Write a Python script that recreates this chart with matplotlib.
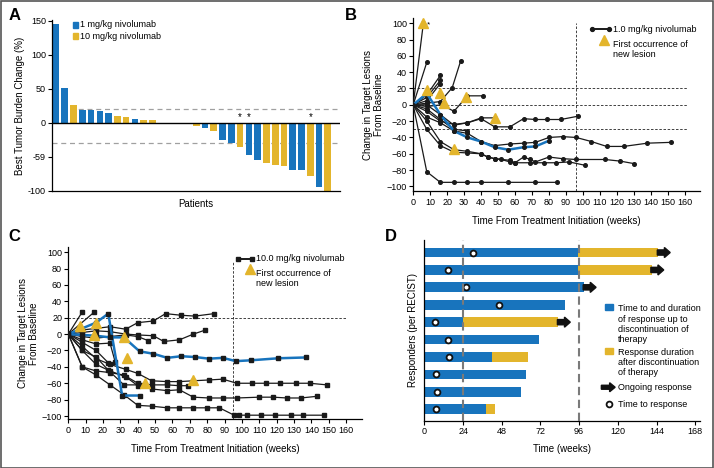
import matplotlib
matplotlib.use("Agg")
import matplotlib.pyplot as plt
from matplotlib.patches import Rectangle, FancyArrow
from matplotlib.lines import Line2D

plt.rcParams['font.family'] = ['Liberation Sans', 'DejaVu Sans']

BLUE = '#1874bd'
YELLOW = '#e3b52c'

# ---- panel A: best tumor burden change per patient (waterfall)
a_change = [145, 51, 26, 19, 19, 18, 15, 10, 9, 6, 4, 4, 0, -1.5, -1, -2, -5, -7, -12,
            -25, -30, -36, -48, -55, -59, -62, -63, -69, -69, -78, -94, -100]
a_dose = ['1', '1', '10', '1', '1', '1', '1', '10', '10', '1', '10', '10', '10', '1', '10', '10',
          '10', '1', '10', '1', '1', '10', '1', '1', '10', '10', '10', '1', '1', '10', '1', '10']
a_star = [21, 22, 29]
a_yticks = [150, 100, 50, 0, -50, -100]
a_yticklabels = ['150', '100', '50', '0', '-59', '-100']
a_ref_levels = [20, -30]

# ---- panel B: 1.0 mg/kg, change in target lesions over time
b_weeks = [
    [0, 6],
    [0, 8],
    [0, 8, 16],
    [0, 8, 16],
    [0, 8, 16],
    [0, 8, 16, 23, 28],
    [0, 8, 17, 24, 32, 41],
    [0, 8, 16, 24, 32, 40, 48, 57, 65, 72, 79, 87, 97],
    [0, 8, 16, 24, 32, 40, 48],
    [0, 8, 16, 24, 32, 40, 48, 57, 65, 72, 80, 88, 96, 105, 114, 124, 138, 152],
    [0, 8, 16, 24, 32, 40, 44, 48, 52, 57, 60, 65, 69, 72, 80, 88, 96, 113, 122, 130],
    [0, 8, 16, 24, 32, 40, 44, 48, 57, 60, 69, 77, 84, 92, 101],
    [0, 8, 16, 24, 32, 40, 56, 72, 85],
    [0, 8, 16, 24, 32],
]
b_change = [
    [0, 100],
    [0, 52],
    [0, 12, 36],
    [0, 9, 30],
    [0, 5, 26],
    [0, 2, 4, 21, 54],
    [0, -2, 0, -8, 11, 11],
    [0, -8, -20, -24, -22, -17, -27, -27, -17, -18, -18, -18, -14],
    [0, 0, -12, -25, -22, -16, -16],
    [0, -15, -22, -32, -35, -45, -50, -48, -47, -46, -40, -39, -40, -45, -51, -51, -47, -46],
    [0, -20, -45, -55, -57, -60, -64, -66, -67, -70, -71, -64, -67, -70, -64, -66, -67, -67, -69, -72],
    [0, -30, -50, -58, -59, -60, -64, -66, -68, -71, -71, -71, -71, -70, -74],
    [0, -82, -95, -95, -95, -95, -95, -95, -95],
    [0, -5, -18, -30, -32],
]
b_blue_weeks = [0, 8, 16, 24, 32, 40, 48, 56, 65, 72, 80]
b_blue_change = [0, 14, -12, -32, -40, -45, -52, -55, -52, -51, -44]
b_tri_weeks = [6, 8, 16, 18, 24, 31, 48]
b_tri_change = [100, 18, 14, 2, -54, 9, -16]
b_ref_levels = [20, 0, -30]

# ---- panel C: 10.0 mg/kg, change in target lesions over time
c_weeks = [
    [0, 8],
    [0, 15],
    [0, 8, 16, 24, 33, 40, 49, 56, 65, 73, 84],
    [0, 8, 16, 24, 33, 40, 49, 55, 64, 72, 79],
    [0, 8, 16, 24, 33, 40, 46],
    [0, 8, 16, 24, 33, 40, 48, 57, 64, 72, 81, 89, 97, 106, 114, 122, 131, 139, 149],
    [0, 8, 16, 24, 33, 40, 48, 57, 64, 72, 81, 89, 97, 110, 118, 126, 134, 143],
    [0, 8, 16, 24, 32, 40, 48, 57, 64, 72, 80, 87, 95.5, 98.5, 103, 111, 119, 128, 135, 147],
    [0, 8, 16, 24, 32, 40, 48, 57, 64, 69],
    [0, 8, 16, 23, 32, 41],
    [0, 8, 16, 23],
    [0, 8, 16, 24, 27],
]
c_change = [
    [0, 27],
    [0, 27],
    [0, 5, 7, 9, 6, 14, 16, 25, 23, 22, 25],
    [0, 2, 4, 3, 0, -1, -2, -9, -7, 0, 5],
    [0, -3, -5, -3, -1, -3, -8],
    [0, -15, -30, -37, -43, -48, -57, -58, -58, -57, -56, -55, -60, -60, -60, -60, -60, -60, -62],
    [0, -20, -37, -45, -52, -63, -67, -69, -68, -77, -78, -78, -78, -77, -77, -78, -78, -76],
    [0, -40, -50, -62, -74, -87, -88, -90, -90, -90, -90, -90, -99, -99, -99, -99, -99, -99, -99, -99],
    [0, -40, -45, -47, -50, -60, -62, -62, -63, -63],
    [0, -20, -28, -44, -62, -62],
    [0, -10, -20, -35],
    [0, -7, -12, -11, -34],
]
c_blue_weeks = [[0, 16, 23, 31, 41],
                [0, 8, 16, 24, 32, 41, 49, 57, 65, 73, 81, 89, 96.5, 105, 121, 137]]
c_blue_change = [[0, 14, 25, -75, -75],
                 [0, -1, -2, -4, -4, -21, -24, -29, -27, -28, -30, -29, -33, -32, -29.5, -28.5]]
c_tri_weeks = [7, 16, 15, 32, 34, 44, 72]
c_tri_change = [10, 14, -1, -4, -29, -60, -56]
c_ref_levels = [20]
cutoff_week = 96

# ---- panel D: responders, time to and duration of response
d_blue_end = [95, 95, 99, 87, 24, 71, 42, 63, 60, 38]
d_total_end = [145, 141, 99, 87, 83, 71, 64, 63, 60, 44]
d_ongoing = [True, True, True, False, True, False, False, False, False, False]
d_resp_week = [30, 14.5, 26, 46.5, 6.6, 14.5, 15, 7, 8, 7]
d_ref_weeks = [24, 96]

fig = plt.figure(figsize=(7.14, 4.68), dpi=100)
fig.patches.append(Rectangle((0.001, 0.001), 0.998, 0.997, transform=fig.transFigure,
                             fill=False, edgecolor='#555555', lw=1.2))

TICK = 6.5
LAB = 7


def style_axes(ax):
    for s in ['top', 'right']:
        ax.spines[s].set_visible(False)
    for s in ['left', 'bottom']:
        ax.spines[s].set_linewidth(0.9)
    ax.tick_params(labelsize=TICK, length=3, width=0.8, pad=1.5)


# ===== A
axA = fig.add_axes([0.0733, 0.5925, 0.4030, 0.3645])
style_axes(axA)
xs = list(range(len(a_change)))
cols = [BLUE if d == '1' else YELLOW for d in a_dose]
axA.bar(xs, a_change, width=0.76, color=cols, zorder=2)
axA.axhline(0, color='black', lw=1.0, zorder=3)
for lv in a_ref_levels:
    axA.axhline(lv, color='#a0a0a0', lw=0.9, dashes=(4, 3), zorder=1)
for i in a_star:
    axA.text(i, 1.5, '*', ha='center', va='bottom', fontsize=7)
axA.set_xlim(-0.42, 32.4)
axA.set_ylim(-100, 151)
axA.set_xticks([])
axA.set_yticks(a_yticks)
axA.set_yticklabels(a_yticklabels)
axA.set_xlabel('Patients', fontsize=LAB, labelpad=6)
axA.set_ylabel('Best Tumor Burden Change (%)', fontsize=LAB, labelpad=2)
axA.add_patch(Rectangle((0.071, 0.955), 0.019, 0.036, transform=axA.transAxes, color=BLUE, clip_on=False))
axA.add_patch(Rectangle((0.071, 0.887), 0.019, 0.036, transform=axA.transAxes, color=YELLOW, clip_on=False))
axA.text(0.097, 0.974, '1 mg/kg nivolumab', transform=axA.transAxes, fontsize=TICK, va='center')
axA.text(0.097, 0.906, '10 mg/kg nivolumab', transform=axA.transAxes, fontsize=TICK, va='center')


def line_panel(ax, weeks, change, blue_w, blue_c, tri_w, tri_c, marker, ms):
    for w, c in zip(weeks, change):
        ax.plot(w, c, color='#1a1a1a', lw=0.9, marker=marker, ms=ms, zorder=3)
    for w, c in zip(blue_w, blue_c):
        ax.plot(w, c, color=BLUE, lw=1.8, zorder=4)
        ax.plot(w, c, color='#1a1a1a', lw=0, marker=marker, ms=ms, zorder=5)
    ax.plot(tri_w, tri_c, lw=0, marker='^', ms=6.5, color=YELLOW, zorder=6)
    ax.set_xticks(range(0, 161, 10))
    ax.set_yticks(range(-100, 101, 20))
    ax.set_xlabel('Time From Treatment Initiation (weeks)', fontsize=LAB, labelpad=7)
    ax.set_ylabel('Change in Target Lesions\nFrom Baseline', fontsize=LAB, labelpad=2, linespacing=1.1)


# ===== B
axB = fig.add_axes([0.5787, 0.5912, 0.4017, 0.3697])
style_axes(axB)
for lv in b_ref_levels:
    axB.plot([0, 162], [lv, lv], color='#222222', lw=0.6, dashes=(3, 2), zorder=1)
axB.plot([cutoff_week, cutoff_week], [-106, 100], color='#222222', lw=0.6, dashes=(3, 2), zorder=1)
line_panel(axB, b_weeks, b_change, [b_blue_weeks], [b_blue_change], b_tri_weeks, b_tri_change, 'o', 2.6)
axB.text(8.0, 96, '*', fontsize=6)
axB.set_xlim(0, 169)
axB.set_ylim(-106, 106)
axB.plot([0.623, 0.681], [0.936, 0.936], transform=axB.transAxes, color='#1a1a1a', lw=1.4,
         marker='o', ms=2.8)
axB.plot([0.666], [0.876], transform=axB.transAxes, marker='^', ms=6.5, color=YELLOW, lw=0)
axB.text(0.695, 0.936, '1.0 mg/kg nivolumab', transform=axB.transAxes, fontsize=TICK, va='center')
axB.text(0.695, 0.876, 'First occurrence of\nnew lesion', transform=axB.transAxes, fontsize=TICK,
         va='top', linespacing=1.15)

# ===== C
axC = fig.add_axes([0.0957, 0.1041, 0.4109, 0.3675])
style_axes(axC)
for lv in c_ref_levels:
    axC.plot([0, 160], [lv, lv], color='#222222', lw=0.6, dashes=(3, 2), zorder=1)
axC.plot([cutoff_week - 1, cutoff_week - 1], [-104, 88], color='#222222', lw=0.6, dashes=(3, 2), zorder=1)
line_panel(axC, c_weeks, c_change, c_blue_weeks, c_blue_change, c_tri_weeks, c_tri_change, 's', 2.6)
axC.set_xlim(0, 169)
axC.set_ylim(-104, 106)
axC.plot([0.579, 0.626], [0.932, 0.932], transform=axC.transAxes, color='#1a1a1a', lw=1.4,
         marker='s', ms=2.8)
axC.plot([0.619], [0.872], transform=axC.transAxes, marker='^', ms=6.5, color=YELLOW, lw=0)
axC.text(0.641, 0.932, '10.0 mg/kg nivolumab', transform=axC.transAxes, fontsize=TICK, va='center')
axC.text(0.641, 0.872, 'First occurrence of\nnew lesion', transform=axC.transAxes, fontsize=TICK,
         va='top', linespacing=1.15)

# ===== D
axD = fig.add_axes([0.5945, 0.1011, 0.3859, 0.3861])
style_axes(axD)
n = len(d_blue_end)
rows = [n - 1 - i for i in range(n)]
axD.barh(rows, d_blue_end, height=0.56, color=BLUE, zorder=2)
ylw = [t - b for t, b in zip(d_total_end, d_blue_end)]
axD.barh(rows, ylw, left=d_blue_end, height=0.56, color=YELLOW, zorder=2)
for r, t, og in zip(rows, d_total_end, d_ongoing):
    if og:
        axD.add_patch(FancyArrow(t - 0.5, r, 8, 0, width=0.3, head_width=0.58, head_length=3.6,
                                 length_includes_head=True, color='#111111', zorder=3))
axD.plot(d_resp_week, rows, lw=0, marker='o', ms=4.2, mfc='white', mec='#111111', mew=1.3, zorder=4)
for wk in d_ref_weeks:
    axD.axvline(wk, color='#7a7a7a', lw=1.5, dashes=(4, 2.2), zorder=5)
axD.set_xlim(0, 171)
axD.set_ylim(-0.66, 9.72)
axD.set_yticks([])
axD.set_xticks(range(0, 169, 24))
axD.set_xlabel('Time (weeks)', fontsize=LAB, labelpad=6)
axD.set_ylabel('Responders (per RECIST)', fontsize=LAB, labelpad=5)

# legend D (manual)
lx = 0.662
axD.add_patch(Rectangle((lx - 0.008, 0.6103), 0.032, 0.034, transform=axD.transAxes, color=BLUE))
axD.text(lx + 0.04, 0.645, 'Time to and duration\nof response up to\ndiscontinuation of\ntherapy',
         transform=axD.transAxes, fontsize=TICK, va='top', linespacing=1.2)
axD.add_patch(Rectangle((lx - 0.008, 0.3707), 0.032, 0.034, transform=axD.transAxes, color=YELLOW))
axD.text(lx + 0.04, 0.405, 'Response duration\nafter discontinuation\nof therapy',
         transform=axD.transAxes, fontsize=TICK, va='top', linespacing=1.2)
axD.add_patch(FancyArrow(lx - 0.02, 0.185, 0.05, 0, width=0.022, head_width=0.05, head_length=0.02,
                         length_includes_head=True, transform=axD.transAxes, color='#111111'))
axD.text(lx + 0.04, 0.185, 'Ongoing response', transform=axD.transAxes, fontsize=TICK, va='center')
axD.plot([lx + 0.008], [0.09], transform=axD.transAxes, marker='o', ms=4.2, mfc='white',
         mec='#111111', mew=1.3)
axD.text(lx + 0.04, 0.09, 'Time to response', transform=axD.transAxes, fontsize=TICK, va='center')

# panel letters
for lab, x, y in [('A', 0.012, 0.966), ('B', 0.483, 0.966), ('C', 0.012, 0.494), ('D', 0.539, 0.494)]:
    fig.text(x, y, lab, fontsize=12, fontweight='bold', va='center')

fig.savefig('out.png', dpi=100)
